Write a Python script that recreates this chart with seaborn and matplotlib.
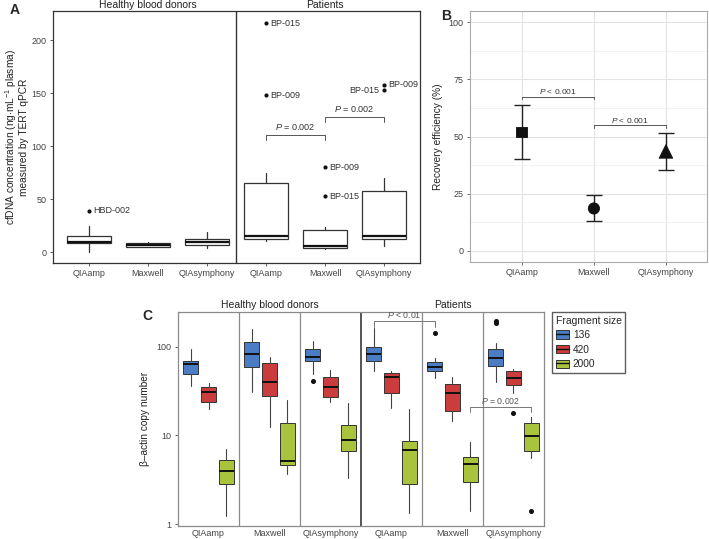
import numpy as np
import pandas as pd
import matplotlib
matplotlib.use("Agg")
import matplotlib.pyplot as plt
import seaborn as sns
from matplotlib.patches import Patch
from matplotlib.lines import Line2D

# ---------------- data ----------------
methods = ["QIAamp", "Maxwell", "QIAsymphony"]
cohorts = ["Healthy blood donors", "Patients"]
fragments = ["136", "420", "2000"]

# Panel A box stats: [whisker low, q1, median, q3, whisker high] (ng/mL)
a_hbd_qiaamp = [0, 8.5, 9.7, 15.5, 24.8]
a_hbd_maxwell = [5, 5.2, 7.0, 8.5, 9.7]
a_hbd_qiasym = [3.8, 6.6, 9.4, 12.5, 18.8]
a_pat_qiaamp = [11, 12.5, 15.5, 65, 75]
a_pat_maxwell = [3, 3.8, 6, 21, 24]
a_pat_qiasym = [6.2, 12.3, 15, 58, 70.5]
a_outliers = [[39.3], [], [], [216, 148], [80, 53], [158, 153]]
a_outlier_ids = [["HBD-002"], [], [], ["BP-015", "BP-009"], ["BP-009", "BP-015"], ["BP-009", "BP-015"]]

# Panel B: recovery efficiency (%)
b_mean = [52, 18.5, 43.5]
b_low = [40, 13, 35.5]
b_high = [64, 24.5, 51.5]

# Panel C box stats per cohort/method/fragment: [whislo, q1, med, q3, whishi]
c_hbd_qiaamp = [[36, 49, 64, 68, 93], [19.8, 23.5, 30.5, 35.3, 38.6], [1.23, 2.8, 4.0, 5.2, 6.95]]
c_hbd_maxwell = [[31, 59, 83, 112, 159], [12.5, 27.7, 39.6, 65, 77], [3.7, 4.6, 5.1, 13.7, 25]]
c_hbd_qiasym = [[49, 69, 77, 93, 114], [23.7, 27.3, 35.3, 45, 54.5], [3.3, 6.65, 8.9, 13, 23.3]]
c_pat_qiaamp = [[53.5, 69, 82.6, 100, 161], [20.5, 30.2, 45, 50, 53], [1.32, 2.8, 6.8, 8.6, 19.8]]
c_pat_maxwell = [[44.6, 52.7, 58.4, 66.5, 75], [14.6, 18.6, 29.7, 37.6, 45], [1.41, 3.0, 4.8, 5.7, 8.3]]
c_pat_qiasym = [[39.6, 60, 75, 93, 110], [29.7, 36.9, 43.9, 53, 56], [5.5, 6.65, 9.9, 13.7, 16.2]]
c_outliers = {
    (0, 2, 0): [41],
    (1, 1, 0): [143.6],
    (1, 2, 0): [194.5, 186],
    (1, 2, 1): [17.7],
    (1, 2, 2): [1.4],
}

colors = {"136": "#4b7cc6", "420": "#cb3d3d", "2000": "#a9c33d"}

# ---------------- style ----------------
sns.set_theme(style="white")
plt.rcParams["font.family"] = ["Liberation Sans", "DejaVu Sans"]
plt.rcParams["mathtext.fontset"] = "custom"
plt.rcParams["mathtext.rm"] = "Liberation Sans"
plt.rcParams["mathtext.it"] = "Liberation Sans:italic"
plt.rcParams["mathtext.bf"] = "Liberation Sans:bold"

W, H = 709, 539
fig = plt.figure(figsize=(W / 100, H / 100), dpi=100)


def rect(l, t, r, b):
    return [l / W, 1 - b / H, (r - l) / W, (b - t) / H]


def stats_from(v, fl=()):
    return dict(whislo=v[0], q1=v[1], med=v[2], q3=v[3], whishi=v[4], fliers=list(fl))


tick_fs = 6.5
dark = "#333333"

# ================= Panel A =================
axA = fig.add_axes(rect(53, 11, 420, 263))
a_boxes = [a_hbd_qiaamp, a_hbd_maxwell, a_hbd_qiasym, a_pat_qiaamp, a_pat_maxwell, a_pat_qiasym]
statsA = [stats_from(b) for b in a_boxes]
axA.bxp(statsA, positions=range(6), widths=0.75, patch_artist=True, showfliers=False,
        boxprops=dict(facecolor="white", edgecolor=dark, linewidth=0.9),
        medianprops=dict(color="#111111", linewidth=1.6),
        whiskerprops=dict(color=dark, linewidth=0.9),
        capprops=dict(linewidth=0), capwidths=0)
for i, (pts, ids) in enumerate(zip(a_outliers, a_outlier_ids)):
    for v, name in zip(pts, ids):
        axA.scatter([i], [v], s=9, color="#111111", zorder=5, linewidths=0)
        if i == 5 and name == "BP-015":
            axA.text(i - 0.08, v, name, fontsize=tick_fs, ha="right", va="center", color=dark)
        else:
            axA.text(i + 0.08, v, name, fontsize=tick_fs, ha="left", va="center", color=dark)
axA.axvline(2.5, color=dark, linewidth=1.0)
axA.set_xlim(-0.61, 5.61)
axA.set_ylim(-10.1, 227.6)
axA.set_xticks(range(6))
axA.set_xticklabels(methods * 2, fontsize=tick_fs, color="#444444")
axA.set_yticks([0, 50, 100, 150, 200])
axA.set_yticklabels(["0", "50", "100", "150", "200"], fontsize=tick_fs, color="#444444")
axA.tick_params(axis="both", length=2.5, width=0.6, color="#444444", pad=2, direction="out",
                bottom=True, left=True)
for s in axA.spines.values():
    s.set_color(dark)
    s.set_linewidth(0.9)
axA.set_ylabel("cfDNA concentration (ng$\\cdot$mL$^{-1}$ plasma)\nmeasured by TERT qPCR",
               fontsize=7.3, color="#222222", labelpad=2, linespacing=1.05)
axA.text(1, 1.005, cohorts[0], transform=axA.get_xaxis_transform(), ha="center", va="bottom",
         fontsize=7.5, color="#222222")
axA.text(4, 1.005, cohorts[1], transform=axA.get_xaxis_transform(), ha="center", va="bottom",
         fontsize=7.5, color="#222222")


def bracket(ax, x0, x1, y, drop, label, fs=6.5, color="#555555", lw=0.7, pad=None):
    ax.plot([x0, x0, x1, x1], [y - drop, y, y, y - drop], color=color, linewidth=lw)
    ax.text((x0 + x1) / 2, y if pad is None else pad, label, ha="center", va="bottom",
            fontsize=fs, color="#333333")


bracket(axA, 3, 4, 111, 5, "$P$ = 0.002", pad=113)
bracket(axA, 4, 5, 128, 5, "$P$ = 0.002", pad=130)

# ================= Panel B =================
axB = fig.add_axes(rect(470, 11, 707, 262))
dfB = pd.DataFrame({"method": methods, "mean": b_mean})
axB.errorbar(range(3), b_mean,
             yerr=[np.array(b_mean) - np.array(b_low), np.array(b_high) - np.array(b_mean)],
             fmt="none", ecolor="#222222", elinewidth=1.0, capsize=5.5, capthick=1.0, zorder=3)
dfB["x"] = range(3)
sns.scatterplot(data=dfB, x="x", y="mean", style="method", size="method",
                markers={"QIAamp": "s", "Maxwell": "o", "QIAsymphony": "^"},
                sizes={"QIAamp": 60, "Maxwell": 65, "QIAsymphony": 95},
                color="#111111", edgecolor="#111111", legend=False, ax=axB, zorder=4)
axB.set_xlim(-0.72, 2.57)
axB.set_ylim(-4.95, 105)
axB.set_xticks(range(3))
axB.set_xticklabels(methods, fontsize=tick_fs, color="#444444")
axB.set_yticks([0, 25, 50, 75, 100])
axB.set_yticklabels(["0", "25", "50", "75", "100"], fontsize=tick_fs, color="#444444")
axB.set_yticks([12.5, 37.5, 62.5, 87.5], minor=True)
axB.grid(True, which="major", color="#e3e3e3", linewidth=0.8)
axB.grid(True, which="minor", axis="y", color="#efefef", linewidth=0.5)
axB.set_axisbelow(True)
axB.tick_params(axis="both", length=2.5, width=0.6, color="#555555", pad=2, bottom=True, left=True)
axB.tick_params(axis="y", which="minor", length=0)
for s in axB.spines.values():
    s.set_color("#aaaaaa")
    s.set_linewidth(0.8)
axB.set_xlabel("")
axB.set_ylabel("Recovery efficiency (%)", fontsize=7.3, color="#222222", labelpad=4)
bracket(axB, 0, 1, 67.4, 1.0, "$P$ < 0.001", fs=6, pad=67.6)
bracket(axB, 1, 2, 54.9, 1.0, "$P$ < 0.001", fs=6, pad=55.1)

# ================= Panel C =================
axC = fig.add_axes(rect(178, 312, 544, 526))
c_groups = [c_hbd_qiaamp, c_hbd_maxwell, c_hbd_qiasym, c_pat_qiaamp, c_pat_maxwell, c_pat_qiasym]
offsets = [-0.29, 0.0, 0.29]
for gi, grp in enumerate(c_groups):
    for fi, frag in enumerate(fragments):
        key = (gi // 3, gi % 3, fi)
        st = stats_from(grp[fi], c_outliers.get(key, []))
        axC.bxp([st], positions=[gi + offsets[fi]], widths=0.25, patch_artist=True,
                boxprops=dict(facecolor=colors[frag], edgecolor="#333333", linewidth=0.7),
                medianprops=dict(color="#111111", linewidth=1.4),
                whiskerprops=dict(color="#444444", linewidth=0.8),
                capprops=dict(linewidth=0), capwidths=0,
                flierprops=dict(marker="o", markersize=2.6, markerfacecolor="#111111",
                                markeredgecolor="#111111"))
axC.set_yscale("log")
axC.set_ylim(0.95, 245)
axC.set_xlim(-0.5, 5.5)
for xv in [0.5, 1.5, 3.5, 4.5]:
    axC.axvline(xv, color="#8a8a8a", linewidth=0.9)
axC.axvline(2.5, color="#555555", linewidth=1.4)
axC.set_xticks(range(6))
axC.set_xticklabels(methods * 2, fontsize=tick_fs, color="#444444")
axC.set_yticks([1, 10, 100])
axC.set_yticklabels(["1", "10", "100"], fontsize=tick_fs, color="#444444")
axC.yaxis.set_minor_locator(matplotlib.ticker.NullLocator())
axC.tick_params(axis="both", length=2.5, width=0.6, color="#555555", pad=2, bottom=True, left=True)
axC.tick_params(axis="x", length=0)
for s in axC.spines.values():
    s.set_color("#8a8a8a")
    s.set_linewidth(0.9)
axC.set_ylabel("β–actin copy number", fontsize=7.3, color="#222222", labelpad=5)
axC.text(1, 1.01, cohorts[0], transform=axC.get_xaxis_transform(), ha="center", va="bottom",
         fontsize=7.5, color="#222222")
axC.text(4, 1.01, cohorts[1], transform=axC.get_xaxis_transform(), ha="center", va="bottom",
         fontsize=7.5, color="#222222")
# brackets
axC.plot([3 - 0.29, 3 - 0.29, 4 - 0.29, 4 - 0.29], [167, 196, 196, 167], color="#777777", linewidth=0.7)
axC.text(3.21, 197, "$P$ < 0.01", ha="center", va="bottom", fontsize=6.3, color="#555555")
axC.plot([4 + 0.29, 4 + 0.29, 5 + 0.29, 5 + 0.29], [18.5, 21, 21, 18.5], color="#777777", linewidth=0.7)
axC.text(4.79, 21.3, "$P$ = 0.002", ha="center", va="bottom", fontsize=6.3, color="#555555")

handles = [(Patch(facecolor=colors[f], edgecolor="#333333", linewidth=0.7),
            Line2D([], [], color="#111111", linewidth=1.0)) for f in fragments]
leg = fig.legend(handles, fragments, title="Fragment size", loc="upper left",
                 bbox_to_anchor=(552 / W, 1 - 312 / H), fontsize=7.3, title_fontsize=7.5,
                 frameon=True, fancybox=False, edgecolor="#333333", handlelength=1.3,
                 handleheight=0.9, handletextpad=0.4, borderpad=0.35, labelspacing=0.45,
                 borderaxespad=0)
leg._legend_box.align = "left"
leg.get_frame().set_linewidth(1.0)

# panel letters
fig.text(10 / W, 1 - 10 / H, "A", fontsize=10, fontweight="bold", ha="left", va="center")
fig.text(441 / W, 1 - 16 / H, "B", fontsize=10, fontweight="bold", ha="left", va="center")
fig.text(142 / W, 1 - 316 / H, "C", fontsize=10, fontweight="bold", ha="left", va="center")

fig.savefig("out.png", dpi=100, facecolor="white")
